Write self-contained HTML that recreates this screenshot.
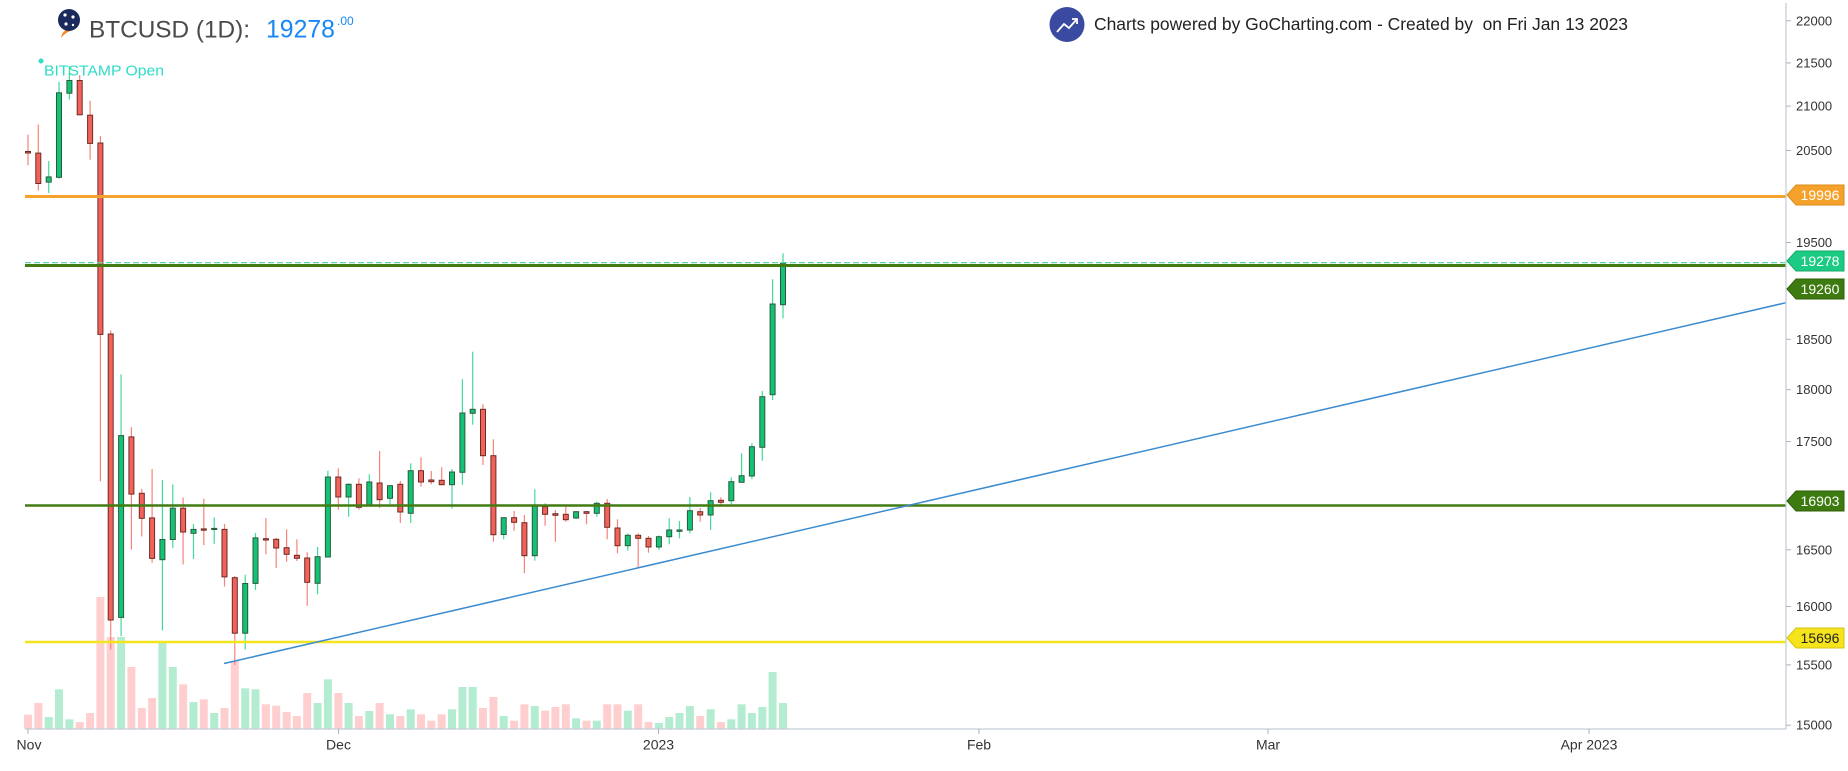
<!DOCTYPE html>
<html><head><meta charset="utf-8"><style>
html,body{margin:0;padding:0;background:#fff;width:1848px;height:771px;overflow:hidden}
svg{display:block}
.r path{stroke:#f7837b;stroke-width:1.2}
.r rect{fill:#f1635a;stroke:#6e2a24;stroke-width:1}
.g path{stroke:#3fdc9a;stroke-width:1.2}
.g rect{fill:#12c375;stroke:#2a5a3c;stroke-width:1}
.vr{fill:#ffcfd0}.vg{fill:#b4ecd2}
.yl{font:13px "Liberation Sans",sans-serif;fill:#333}
.xl{font:14px "Liberation Sans",sans-serif;fill:#333;text-anchor:middle}
.bl{font:14px "Liberation Sans",sans-serif;fill:#fff;text-anchor:middle}
</style></head><body>
<svg width="1848" height="771" viewBox="0 0 1848 771" xmlns="http://www.w3.org/2000/svg">
<rect width="1848" height="771" fill="#fff"/>
<!-- volume -->
<g>
<rect class="vr" x="24" y="714.7" width="8" height="14"/><rect class="vr" x="34.3" y="703" width="8" height="25.7"/><rect class="vg" x="44.7" y="717" width="8" height="11.7"/><rect class="vg" x="55" y="689.3" width="8" height="39.4"/><rect class="vg" x="65.4" y="719.3" width="8" height="9.4"/><rect class="vr" x="75.7" y="722" width="8" height="6.7"/><rect class="vr" x="86.1" y="713" width="8" height="15.7"/><rect class="vr" x="96.4" y="597" width="8" height="131.7"/><rect class="vr" x="106.7" y="637" width="8" height="91.7"/><rect class="vg" x="117.1" y="637" width="8" height="91.7"/>
<rect class="vr" x="127.4" y="667" width="8" height="61.7"/><rect class="vr" x="137.8" y="708" width="8" height="20.7"/><rect class="vr" x="148.1" y="698" width="8" height="30.7"/><rect class="vg" x="158.4" y="642.7" width="8" height="86"/><rect class="vg" x="168.8" y="667" width="8" height="61.7"/><rect class="vr" x="179.1" y="684.3" width="8" height="44.4"/><rect class="vg" x="189.5" y="702" width="8" height="26.7"/><rect class="vr" x="199.8" y="699.3" width="8" height="29.4"/><rect class="vg" x="210.2" y="713" width="8" height="15.7"/><rect class="vr" x="220.5" y="708" width="8" height="20.7"/>
<rect class="vr" x="230.8" y="661" width="8" height="67.7"/><rect class="vg" x="241.2" y="688.3" width="8" height="40.4"/><rect class="vg" x="251.5" y="689.3" width="8" height="39.4"/><rect class="vr" x="261.9" y="704.3" width="8" height="24.4"/><rect class="vr" x="272.2" y="705.7" width="8" height="23"/><rect class="vr" x="282.6" y="712" width="8" height="16.7"/><rect class="vr" x="292.9" y="716" width="8" height="12.7"/><rect class="vr" x="303.2" y="693" width="8" height="35.7"/><rect class="vg" x="313.6" y="703" width="8" height="25.7"/><rect class="vg" x="323.9" y="679.3" width="8" height="49.4"/>
<rect class="vr" x="334.3" y="693" width="8" height="35.7"/><rect class="vg" x="344.6" y="703" width="8" height="25.7"/><rect class="vr" x="354.9" y="716" width="8" height="12.7"/><rect class="vg" x="365.3" y="711" width="8" height="17.7"/><rect class="vr" x="375.6" y="703" width="8" height="25.7"/><rect class="vg" x="386" y="714.3" width="8" height="14.4"/><rect class="vr" x="396.3" y="716" width="8" height="12.7"/><rect class="vg" x="406.7" y="709.3" width="8" height="19.4"/><rect class="vr" x="417" y="714.3" width="8" height="14.4"/><rect class="vr" x="427.3" y="720.7" width="8" height="8"/>
<rect class="vr" x="437.7" y="714.3" width="8" height="14.4"/><rect class="vg" x="448" y="709.3" width="8" height="19.4"/><rect class="vg" x="458.4" y="687" width="8" height="41.7"/><rect class="vg" x="468.7" y="687" width="8" height="41.7"/><rect class="vr" x="479" y="708" width="8" height="20.7"/><rect class="vr" x="489.4" y="697" width="8" height="31.7"/><rect class="vg" x="499.7" y="716" width="8" height="12.7"/><rect class="vr" x="510.1" y="720.7" width="8" height="8"/><rect class="vr" x="520.4" y="704.3" width="8" height="24.4"/><rect class="vg" x="530.8" y="706" width="8" height="22.7"/>
<rect class="vr" x="541.1" y="710.7" width="8" height="18"/><rect class="vr" x="551.4" y="707" width="8" height="21.7"/><rect class="vr" x="561.8" y="704.3" width="8" height="24.4"/><rect class="vg" x="572.1" y="718.3" width="8" height="10.4"/><rect class="vr" x="582.5" y="720.7" width="8" height="8"/><rect class="vg" x="592.8" y="720.7" width="8" height="8"/><rect class="vr" x="603.2" y="704.3" width="8" height="24.4"/><rect class="vr" x="613.5" y="704.3" width="8" height="24.4"/><rect class="vg" x="623.8" y="710.7" width="8" height="18"/><rect class="vr" x="634.2" y="704.3" width="8" height="24.4"/>
<rect class="vr" x="644.5" y="722" width="8" height="6.7"/><rect class="vg" x="654.9" y="723" width="8" height="5.7"/><rect class="vg" x="665.2" y="717" width="8" height="11.7"/><rect class="vg" x="675.5" y="713" width="8" height="15.7"/><rect class="vg" x="685.9" y="706" width="8" height="22.7"/><rect class="vr" x="696.2" y="716" width="8" height="12.7"/><rect class="vg" x="706.6" y="709.3" width="8" height="19.4"/><rect class="vr" x="716.9" y="722" width="8" height="6.7"/><rect class="vg" x="727.3" y="719.3" width="8" height="9.4"/><rect class="vg" x="737.6" y="704.3" width="8" height="24.4"/>
<rect class="vg" x="747.9" y="713" width="8" height="15.7"/><rect class="vg" x="758.3" y="707" width="8" height="21.7"/><rect class="vg" x="768.6" y="672" width="8" height="56.7"/><rect class="vg" x="779" y="703" width="8" height="25.7"/>
</g>
<!-- candles -->
<g>
<g class="r"><path d="M28 134.6V165.4"/><rect x="25.5" y="151.5" width="5" height="1.5"/></g>
<g class="r"><path d="M38.3 124.5V190.5"/><rect x="35.8" y="153.1" width="5" height="30.4"/></g>
<g class="g"><path d="M48.7 161V193"/><rect x="46.2" y="176.9" width="5" height="5.2"/></g>
<g class="g"><path d="M59 81.8V178.6"/><rect x="56.5" y="92.8" width="5" height="84.5"/></g>
<g class="g"><path d="M69.4 66V99.4"/><rect x="66.9" y="80.5" width="5" height="12.7"/></g>
<g class="r"><path d="M79.7 75.2V114.8"/><rect x="77.2" y="80.5" width="5" height="34.3"/></g>
<g class="r"><path d="M90.1 100.7V159.7"/><rect x="87.6" y="115.2" width="5" height="28.2"/></g>
<g class="r"><path d="M100.4 136V481.4"/><rect x="97.9" y="143" width="5" height="191.4"/></g>
<g class="r"><path d="M110.7 330.4V649.5"/><rect x="108.2" y="334" width="5" height="286"/></g>
<g class="g"><path d="M121.1 374.4V636.3"/><rect x="118.6" y="435.6" width="5" height="181.8"/></g>
<g class="r"><path d="M131.4 427.2V549.6"/><rect x="128.9" y="436.9" width="5" height="57.2"/></g>
<g class="r"><path d="M141.8 488.8V536.4"/><rect x="139.3" y="493.3" width="5" height="25"/></g>
<g class="r"><path d="M152.1 469V562.8"/><rect x="149.6" y="517.9" width="5" height="40.5"/></g>
<g class="g"><path d="M162.4 480V630.5"/><rect x="159.9" y="539.5" width="5" height="20.2"/></g>
<g class="g"><path d="M172.8 484.4V548.2"/><rect x="170.3" y="508.2" width="5" height="31.3"/></g>
<g class="r"><path d="M183.1 497.6V564.5"/><rect x="180.6" y="508.2" width="5" height="23.8"/></g>
<g class="g"><path d="M193.5 524V559"/><rect x="191" y="529.4" width="5" height="3.9"/></g>
<g class="r"><path d="M203.8 498.6V545.2"/><rect x="201.3" y="528.9" width="5" height="1.3"/></g>
<g class="g"><path d="M214.2 517.4V543.8"/><rect x="211.7" y="528.4" width="5" height="1.1"/></g>
<g class="r"><path d="M224.5 524V586.5"/><rect x="222" y="529.4" width="5" height="47.5"/></g>
<g class="r"><path d="M234.8 576V664.9"/><rect x="232.3" y="577.7" width="5" height="55.5"/></g>
<g class="g"><path d="M245.2 574.7V649.5"/><rect x="242.7" y="583.5" width="5" height="49.7"/></g>
<g class="g"><path d="M255.5 533V590"/><rect x="253" y="537.9" width="5" height="45.5"/></g>
<g class="r"><path d="M265.9 518V554.3"/><rect x="263.4" y="538.7" width="5" height="1.3"/></g>
<g class="r"><path d="M276.2 538V568"/><rect x="273.7" y="539.3" width="5" height="8.7"/></g>
<g class="r"><path d="M286.6 529.3V561.7"/><rect x="284.1" y="547.7" width="5" height="6.6"/></g>
<g class="r"><path d="M296.9 539.3V561"/><rect x="294.4" y="555.3" width="5" height="3"/></g>
<g class="r"><path d="M307.2 552.3V605.7"/><rect x="304.7" y="558" width="5" height="24.3"/></g>
<g class="g"><path d="M317.6 547V594.3"/><rect x="315.1" y="556.7" width="5" height="26.6"/></g>
<g class="g"><path d="M327.9 470.7V557.3"/><rect x="325.4" y="477" width="5" height="80"/></g>
<g class="r"><path d="M338.3 468.3V509.7"/><rect x="335.8" y="477" width="5" height="20"/></g>
<g class="g"><path d="M348.6 483.3V516.7"/><rect x="346.1" y="484.3" width="5" height="12.7"/></g>
<g class="r"><path d="M358.9 478.3V509.7"/><rect x="356.4" y="484.3" width="5" height="23"/></g>
<g class="g"><path d="M369.3 474.3V505.3"/><rect x="366.8" y="482" width="5" height="23.3"/></g>
<g class="r"><path d="M379.6 451V508"/><rect x="377.1" y="483" width="5" height="16.7"/></g>
<g class="g"><path d="M390 485V504"/><rect x="387.5" y="485.7" width="5" height="12.6"/></g>
<g class="r"><path d="M400.3 481V523"/><rect x="397.8" y="484.3" width="5" height="27.7"/></g>
<g class="g"><path d="M410.7 463.3V523"/><rect x="408.2" y="470.7" width="5" height="42.6"/></g>
<g class="r"><path d="M421 457.3V486.7"/><rect x="418.5" y="470.7" width="5" height="11.3"/></g>
<g class="r"><path d="M431.3 471V484.3"/><rect x="428.8" y="480" width="5" height="1.7"/></g>
<g class="r"><path d="M441.7 467.3V485.3"/><rect x="439.2" y="480.3" width="5" height="4.4"/></g>
<g class="g"><path d="M452 469V508.7"/><rect x="449.5" y="472" width="5" height="12.7"/></g>
<g class="g"><path d="M462.4 379.3V484.7"/><rect x="459.9" y="413" width="5" height="59.3"/></g>
<g class="g"><path d="M472.7 351.7V424.7"/><rect x="470.2" y="409.3" width="5" height="4"/></g>
<g class="r"><path d="M483 404.3V465"/><rect x="480.5" y="409.3" width="5" height="46.4"/></g>
<g class="r"><path d="M493.4 439.3V541.7"/><rect x="490.9" y="455.7" width="5" height="79"/></g>
<g class="g"><path d="M503.7 517.3V539.3"/><rect x="501.2" y="517.7" width="5" height="16.8"/></g>
<g class="r"><path d="M514.1 511V530.7"/><rect x="511.6" y="517.7" width="5" height="4.6"/></g>
<g class="r"><path d="M524.4 515V573.3"/><rect x="521.9" y="522.7" width="5" height="33"/></g>
<g class="g"><path d="M534.8 489.3V560.7"/><rect x="532.3" y="506" width="5" height="49.7"/></g>
<g class="r"><path d="M545.1 503.3V525.7"/><rect x="542.6" y="506.7" width="5" height="7.6"/></g>
<g class="r"><path d="M555.4 510V541.7"/><rect x="552.9" y="513.7" width="5" height="1.6"/></g>
<g class="r"><path d="M565.8 506V521.7"/><rect x="563.3" y="514.3" width="5" height="5.4"/></g>
<g class="g"><path d="M576.1 511V519"/><rect x="573.6" y="511.7" width="5" height="6.3"/></g>
<g class="r"><path d="M586.5 511V524.3"/><rect x="584" y="511.7" width="5" height="1.6"/></g>
<g class="g"><path d="M596.8 501.7V516.7"/><rect x="594.3" y="503.3" width="5" height="10"/></g>
<g class="r"><path d="M607.2 499V539.3"/><rect x="604.7" y="503.3" width="5" height="24"/></g>
<g class="r"><path d="M617.5 519.3V553.3"/><rect x="615" y="528" width="5" height="17.7"/></g>
<g class="g"><path d="M627.8 533.3V550.7"/><rect x="625.3" y="535.3" width="5" height="10.4"/></g>
<g class="r"><path d="M638.2 533.3V568.3"/><rect x="635.7" y="535.3" width="5" height="3"/></g>
<g class="r"><path d="M648.5 536V552.7"/><rect x="646" y="538.3" width="5" height="8.7"/></g>
<g class="g"><path d="M658.9 535.5V550"/><rect x="656.4" y="536.7" width="5" height="10.3"/></g>
<g class="g"><path d="M669.2 518.3V544.3"/><rect x="666.7" y="530" width="5" height="6.7"/></g>
<g class="g"><path d="M679.5 521V538.3"/><rect x="677" y="530" width="5" height="1.3"/></g>
<g class="g"><path d="M689.9 497V533.3"/><rect x="687.4" y="510.7" width="5" height="19.3"/></g>
<g class="r"><path d="M700.2 508V521.7"/><rect x="697.7" y="511.7" width="5" height="3.3"/></g>
<g class="g"><path d="M710.6 492.3V530"/><rect x="708.1" y="500.7" width="5" height="14.3"/></g>
<g class="r"><path d="M720.9 497.3V506"/><rect x="718.4" y="500.3" width="5" height="2"/></g>
<g class="g"><path d="M731.3 477.3V504"/><rect x="728.8" y="481.7" width="5" height="19"/></g>
<g class="g"><path d="M741.6 453.3V482.3"/><rect x="739.1" y="475.7" width="5" height="6.6"/></g>
<g class="g"><path d="M751.9 443.3V479.3"/><rect x="749.4" y="446.7" width="5" height="29.3"/></g>
<g class="g"><path d="M762.3 391V460.7"/><rect x="759.8" y="396.7" width="5" height="50.6"/></g>
<g class="g"><path d="M772.6 279.3V400"/><rect x="770.1" y="304" width="5" height="90.7"/></g>
<g class="g"><path d="M783 253.3V318.3"/><rect x="780.5" y="263.3" width="5" height="41.4"/></g>
</g>
<!-- horizontal drawings -->
<line x1="25" y1="196.5" x2="1786" y2="196.5" stroke="#f5a22c" stroke-width="3"/>
<line x1="25" y1="262.6" x2="1786" y2="262.6" stroke="#5cd6a2" stroke-width="1.3" stroke-dasharray="6 3"/>
<line x1="25" y1="265.5" x2="1786" y2="265.5" stroke="#437c12" stroke-width="3"/>
<line x1="25" y1="505.5" x2="1786" y2="505.5" stroke="#437c12" stroke-width="2.5"/>
<line x1="25" y1="642" x2="1786" y2="642" stroke="#f2e41e" stroke-width="2.5"/>
<line x1="224" y1="663.5" x2="1786" y2="302.7" stroke="#3b8bd0" stroke-width="1.5"/>
<!-- axes -->
<line x1="1786" y1="3" x2="1786" y2="729" stroke="#c5ccd6" stroke-width="1.2"/>
<line x1="25" y1="729" x2="1786" y2="729" stroke="#c5ccd6" stroke-width="1.2"/>
<g stroke="#aab2bd" stroke-width="1">
<line x1="1786" y1="20.8" x2="1791" y2="20.8"/><line x1="1786" y1="62.9" x2="1791" y2="62.9"/><line x1="1786" y1="106.1" x2="1791" y2="106.1"/><line x1="1786" y1="150.5" x2="1791" y2="150.5"/><line x1="1786" y1="242.5" x2="1791" y2="242.5"/><line x1="1786" y1="339.3" x2="1791" y2="339.3"/><line x1="1786" y1="389.7" x2="1791" y2="389.7"/><line x1="1786" y1="441.6" x2="1791" y2="441.6"/><line x1="1786" y1="549.8" x2="1791" y2="549.8"/><line x1="1786" y1="606.5" x2="1791" y2="606.5"/><line x1="1786" y1="664.9" x2="1791" y2="664.9"/><line x1="1786" y1="725.2" x2="1791" y2="725.2"/>
<line x1="28" y1="729" x2="28" y2="734"/><line x1="338.5" y1="729" x2="338.5" y2="734"/><line x1="658.5" y1="729" x2="658.5" y2="734"/><line x1="979" y1="729" x2="979" y2="734"/><line x1="1268" y1="729" x2="1268" y2="734"/><line x1="1589" y1="729" x2="1589" y2="734"/>
</g>
<text class="yl" x="1796" y="25.3">22000</text>
<text class="yl" x="1796" y="67.4">21500</text>
<text class="yl" x="1796" y="110.6">21000</text>
<text class="yl" x="1796" y="155">20500</text>
<text class="yl" x="1796" y="247">19500</text>
<text class="yl" x="1796" y="343.8">18500</text>
<text class="yl" x="1796" y="394.2">18000</text>
<text class="yl" x="1796" y="446.1">17500</text>
<text class="yl" x="1796" y="554.3">16500</text>
<text class="yl" x="1796" y="611">16000</text>
<text class="yl" x="1796" y="669.4">15500</text>
<text class="yl" x="1796" y="729.7">15000</text>
<text class="xl" x="29" y="749.5">Nov</text>
<text class="xl" x="338.5" y="749.5">Dec</text>
<text class="xl" x="658.5" y="749.5">2023</text>
<text class="xl" x="979" y="749.5">Feb</text>
<text class="xl" x="1268" y="749.5">Mar</text>
<text class="xl" x="1589" y="749.5">Apr 2023</text>
<!-- price labels -->
<polygon points="1787,195 1796,185 1844,185 1844,205 1796,205" fill="#f5a22c" stroke="#dc8c18" stroke-width="1"/>
<text class="bl" x="1820" y="200">19996</text>
<polygon points="1787,261 1796,251 1844,251 1844,271 1796,271" fill="#1ccb83" stroke="#14a86a" stroke-width="1"/>
<text class="bl" x="1820" y="266">19278</text>
<polygon points="1787,289 1796,279 1844,279 1844,299 1796,299" fill="#3d7a0f" stroke="#2f6009" stroke-width="1"/>
<text class="bl" x="1820" y="294">19260</text>
<polygon points="1787,501 1796,491 1844,491 1844,511 1796,511" fill="#3d7a0f" stroke="#2f6009" stroke-width="1"/>
<text class="bl" x="1820" y="506">16903</text>
<polygon points="1787,638 1796,628 1844,628 1844,648 1796,648" fill="#f5e31c" stroke="#d4c310" stroke-width="1"/>
<text class="bl" x="1820" y="643" style="fill:#222">15696</text>
<!-- header left -->
<path d="M61 38 Q62 31 68 29 L70 31 Q65 33 61 38 Z" fill="#f08a24"/>
<circle cx="69" cy="20" r="11" fill="#1b2a5c"/>
<circle cx="65" cy="15" r="1.6" fill="#fff"/><circle cx="73" cy="17" r="1.6" fill="#fff"/><circle cx="66" cy="24" r="1.6" fill="#fff"/><circle cx="73" cy="25" r="1.2" fill="#fff"/>
<text x="89" y="37.3" font-family="Liberation Sans, sans-serif" font-size="24.4" fill="#4a4a4a" textLength="161" lengthAdjust="spacingAndGlyphs">BTCUSD (1D):</text>
<text x="266" y="37.3" font-family="Liberation Sans, sans-serif" font-size="24.8" fill="#1787f5">19278</text>
<text x="337" y="25" font-family="Liberation Sans, sans-serif" font-size="12" fill="#1787f5">.00</text>
<circle cx="41" cy="61" r="2.5" fill="#2fdcc8"/>
<text x="44" y="75.3" font-family="Liberation Sans, sans-serif" font-size="15" fill="#2fdcc8" textLength="120" lengthAdjust="spacingAndGlyphs">BITSTAMP Open</text>
<!-- header right -->
<circle cx="1067" cy="24.5" r="17.5" fill="#3a4aa0"/>
<polyline points="1057,32 1064,24 1069,28 1077,19" fill="none" stroke="#fff" stroke-width="1.8"/>
<polyline points="1072,19 1077,19 1077,24" fill="none" stroke="#fff" stroke-width="1.8"/>
<text x="1094" y="30" font-family="Liberation Sans, sans-serif" font-size="17.4" fill="#222" style="white-space:pre" textLength="534" lengthAdjust="spacingAndGlyphs">Charts powered by GoCharting.com - Created by  on Fri Jan 13 2023</text>
</svg>
</body></html>
